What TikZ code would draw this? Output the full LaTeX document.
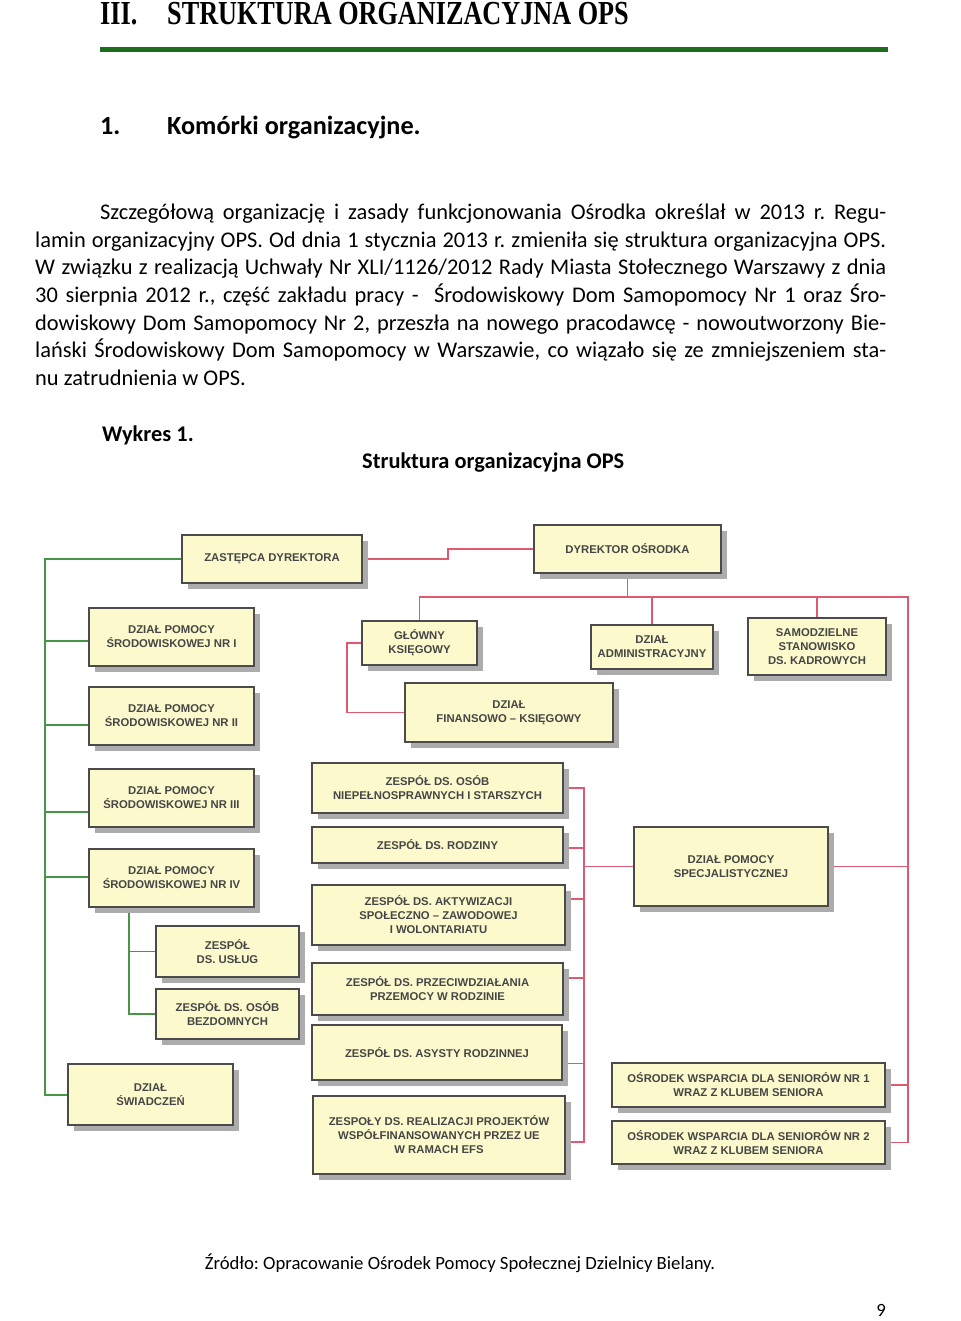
\documentclass[tikz,border=0pt]{standalone}
\usepackage{graphicx}
\usepackage{fontspec}
\setmainfont{Carlito}
\newfontfamily\headfont{Liberation Serif}
\newfontfamily\boxfont{Liberation Sans}
\usetikzlibrary{calc,shadows,backgrounds}
\frenchspacing
\definecolor{boxfill}{RGB}{252,250,204}
\definecolor{boxline}{RGB}{75,75,75}
\definecolor{boxtext}{RGB}{70,70,70}
\definecolor{redline}{RGB}{222,90,112}
\definecolor{greenline}{RGB}{70,150,70}
\definecolor{rulegreen}{RGB}{28,110,28}
\definecolor{shadowgray}{RGB}{172,172,172}
\tikzset{
 orgbox/.style={draw=boxline, line width=1.6pt, fill=boxfill, inner sep=0pt, align=center,
   font=\boxfont\bfseries\fontsize{11.3}{14}\selectfont, text=boxtext,
   drop shadow={shadow xshift=6pt, shadow yshift=-6pt, fill=shadowgray, opacity=1}},
 redc/.style={draw=redline, line width=1.5pt},
 greenc/.style={draw=greenline, line width=1.5pt},
 trunk/.style={draw=greenline, line width=2pt},
 bodyline/.style={anchor=base west, inner sep=0pt, font=\fontsize{22.4}{27.5}\selectfont},
 headtxt/.style={anchor=base west, inner sep=0pt, font=\headfont\bfseries\fontsize{33.6}{40}\selectfont},
 secttxt/.style={anchor=base west, inner sep=0pt, font=\bfseries\fontsize{26.2}{32}\selectfont},
 captxt/.style={anchor=base west, inner sep=0pt, font=\bfseries\fontsize{22.4}{27.5}\selectfont},
}
\newcommand\obox[6]{\node[orgbox, minimum width={#4-#2}, minimum height={#5-#3}] (#1) at ({(#2+#4)/2},{(#3+#5)/2}) {#6};}
\begin{document}
\begin{tikzpicture}[x=1pt,y=-1pt]
\useasboundingbox (0,0) rectangle (960,1321);

% heading
\node[headtxt] (h3n) at (100,25) {\scalebox{0.78}[1]{III.}};
\node[headtxt] (h3t) at (167,25) {\scalebox{0.78}[1]{STRUKTURA ORGANIZACYJNA OPS}};
\draw[rulegreen, line width=5pt] (100,50) -- (888,50);
\node[secttxt] (s1n) at (100,135) {1.};
\node[secttxt] (s1t) at (167,135) {Komórki organizacyjne.};

% paragraph
\node[bodyline] (p1) at (100,220) {\makebox[786pt][s]{Szczegółową organizację i zasady funkcjonowania Ośrodka określał w 2013 r. Regu-}};
\node[bodyline] (p2) at (35,247.5) {\makebox[851pt][s]{lamin organizacyjny OPS. Od dnia 1 stycznia 2013 r. zmieniła się struktura organizacyjna OPS.}};
\node[bodyline] (p3) at (35,275) {\makebox[851pt][s]{W związku z realizacją Uchwały Nr XLI/1126/2012 Rady Miasta Stołecznego Warszawy z dnia}};
\node[bodyline] (p4) at (35,302.5) {\makebox[851pt][s]{30 sierpnia 2012 r., część zakładu pracy -\ \ Środowiskowy Dom Samopomocy Nr 1 oraz Śro-}};
\node[bodyline] (p5) at (35,330) {\makebox[851pt][s]{dowiskowy Dom Samopomocy Nr 2, przeszła na nowego pracodawcę - nowoutworzony Bie-}};
\node[bodyline] (p6) at (35,357.5) {\makebox[851pt][s]{lański Środowiskowy Dom Samopomocy w Warszawie, co wiązało się ze zmniejszeniem sta-}};
\node[bodyline] (p7) at (35,385) {nu zatrudnienia w OPS.};

\node[captxt] (w1) at (102,441) {Wykres 1.};
\node[captxt] (w2) at (362,468) {Struktura organizacyjna OPS};

% boxes
\obox{zast}{182}{535}{362}{583}{ZASTĘPCA DYREKTORA}
\obox{dyr}{534}{525}{721}{573}{DYREKTOR OŚRODKA}
\obox{dp1}{89}{608}{254}{666}{DZIAŁ POMOCY\\ŚRODOWISKOWEJ NR I}
\obox{dp2}{89}{687}{254}{745}{DZIAŁ POMOCY\\ŚRODOWISKOWEJ NR II}
\obox{dp3}{89}{769}{254}{827}{DZIAŁ POMOCY\\ŚRODOWISKOWEJ NR III}
\obox{dp4}{89}{849}{254}{907}{DZIAŁ POMOCY\\ŚRODOWISKOWEJ NR IV}
\obox{uslug}{156}{926}{299}{977}{ZESPÓŁ\\DS. USŁUG}
\obox{bezd}{156}{989}{299}{1039}{ZESPÓŁ DS. OSÓB\\BEZDOMNYCH}
\obox{swiad}{68}{1064}{233}{1125}{DZIAŁ\\ŚWIADCZEŃ}
\obox{glowny}{362}{621}{477}{665}{GŁÓWNY\\KSIĘGOWY}
\obox{finans}{405}{683}{613}{742}{DZIAŁ\\FINANSOWO – KSIĘGOWY}
\obox{admin}{591}{625}{713}{669}{DZIAŁ\\ADMINISTRACYJNY}
\obox{samodz}{748}{618}{886}{675}{SAMODZIELNE\\STANOWISKO\\DS. KADROWYCH}
\obox{zn}{312}{763}{563}{813}{ZESPÓŁ DS. OSÓB\\NIEPEŁNOSPRAWNYCH I STARSZYCH}
\obox{zr}{312}{827}{563}{863}{ZESPÓŁ DS. RODZINY}
\obox{za}{312}{885}{565}{945}{ZESPÓŁ DS. AKTYWIZACJI\\SPOŁECZNO – ZAWODOWEJ\\I WOLONTARIATU}
\obox{zp}{312}{963}{563}{1015}{ZESPÓŁ DS. PRZECIWDZIAŁANIA\\PRZEMOCY W RODZINIE}
\obox{zasy}{312}{1025}{562}{1080}{ZESPÓŁ DS. ASYSTY RODZINNEJ}
\obox{zreal}{313}{1096}{565}{1174}{ZESPOŁY DS. REALIZACJI PROJEKTÓW\\WSPÓŁFINANSOWANYCH PRZEZ UE\\W RAMACH EFS}
\obox{spec}{634}{827}{828}{906}{DZIAŁ POMOCY\\SPECJALISTYCZNEJ}
\obox{sen1}{612}{1063}{885}{1107}{OŚRODEK WSPARCIA DLA SENIORÓW NR 1\\WRAZ Z KLUBEM SENIORA}
\obox{sen2}{612}{1121}{885}{1164}{OŚRODEK WSPARCIA DLA SENIORÓW NR 2\\WRAZ Z KLUBEM SENIORA}

% helper coordinates
\coordinate (gx) at (45,0);
\coordinate (busR) at (908,597);
\coordinate (zx) at (584,0);
\coordinate (jog) at (448,0);
\coordinate (lx) at (347,0);
\coordinate (g1) at ($(dp1.west)+(0,4)$);
\coordinate (g2) at ($(dp2.west)+(0,9)$);
\coordinate (g3) at ($(dp3.west)+(0,14)$);
\coordinate (g4) at ($(dp4.west)+(0,-1)$);
\coordinate (g5) at ($(dp4.south west)+(41,0)$);
\coordinate (r2) at ($(zr.east)+(0,3)$);
\coordinate (r3) at ($(za.east)+(0,-16)$);
\coordinate (r4) at ($(zp.east)+(0,-11)$);
\coordinate (r5) at ($(zasy.east)+(0,11)$);
\coordinate (r6) at ($(zreal.east)+(0,7)$);

\begin{scope}[on background layer]
\fill[white] (0,0) rectangle (960,1321);
% green connectors
\draw[trunk] (zast.west) -| (gx |- swiad.west) -- (swiad.west);
\draw[greenc] (g1) -- (g1 -| gx);
\draw[greenc] (g2) -- (g2 -| gx);
\draw[greenc] (g3) -- (g3 -| gx);
\draw[greenc] (g4) -- (g4 -| gx);
\draw[greenc] (g5) |- (bezd.west);
\draw[greenc] (g5 |- uslug.west) -- (uslug.west);
% red connectors
\draw[redc] (zast.east) -- (zast.east -| jog) |- (dyr.west);
\draw[redc] (dyr.south) -- (dyr.south |- busR);
\draw[redc] (glowny.north) |- (busR) |- (sen2.east);
\draw[redc] (admin.north) -- (admin.north |- busR);
\draw[redc] (samodz.north) -- (samodz.north |- busR);
\draw[redc] (spec.east) -- (spec.east -| busR);
\draw[redc] (sen1.east) -- (sen1.east -| busR);
\draw[redc] (glowny.west) -- (glowny.west -| lx) |- (finans.west);
\draw[redc] (spec.west) -- (spec.west -| zx);
\draw[redc] (zn.east) -- (zn.east -| zx) -- (r6 -| zx) -- (r6);
\draw[redc] (r2) -- (r2 -| zx);
\draw[redc] (r3) -- (r3 -| zx);
\draw[redc] (r4) -- (r4 -| zx);
\draw[redc] (r5) -- (r5 -| zx);
\end{scope}

% footer
\node[anchor=base, inner sep=0pt, font=\fontsize{18.7}{22}\selectfont] (src) at (460,1269) {Źródło: Opracowanie Ośrodek Pomocy Społecznej Dzielnicy Bielany.};
\node[anchor=base, inner sep=0pt, font=\fontsize{18.7}{22}\selectfont] (pg) at (881,1316) {9};
\end{tikzpicture}
\end{document}
